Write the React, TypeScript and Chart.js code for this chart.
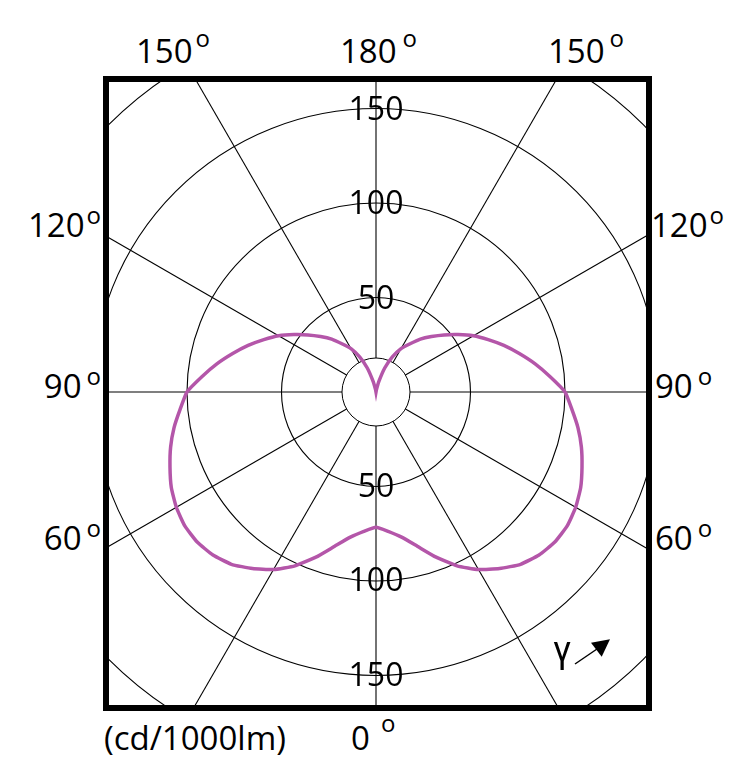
import { useEffect, useRef } from "react"
import { Chart, registerables } from "chart.js"

Chart.register(...registerables)

// gamma measured from straight down (0) to straight up (180), both halves are the same
const gammaDeg = [
  0, 5, 10, 15, 20, 25, 30, 35, 40, 45, 50, 55, 60, 65, 70, 75, 80, 85, 90,
  95, 100, 105, 110, 115, 120, 125, 130, 135, 140, 145, 150, 155, 160, 165, 170, 175, 180,
]
const intensity = [
  71.5, 74, 78, 84.5, 93, 101.5, 108.5, 114, 119, 122, 123.5, 123.5, 122, 119.5, 116, 112.5, 108.5, 104, 100,
  92.5, 85.5, 78.5, 72, 65.5, 59.5, 53, 47, 41.5, 36.5, 31, 26.5, 20.5, 13.5, 5.5, 1, 0, 0,
]
const ringValues = [50, 100, 150, 200]
const hubValue = 18
const topAngles = [150, 180, 150]
const sideAngles = [120, 90, 60]
const bottomAngle = 0
const unitText = "(cd/1000lm)"

const lineColor = "#b456a9"
const FONT = "'Open Sans', sans-serif"
const CANVAS = 900
const R_MAX = 238.1

const allLabels = [...gammaDeg, ...gammaDeg.slice(1, -1).reverse()].map((g) => `${g}°`)
const allValues = [...intensity, ...intensity.slice(1, -1).reverse()]

// white hub in the middle, angle lines start at its edge
const hubPlugin = {
  id: "hub",
  beforeDatasetsDraw(chart: any) {
    const s = chart.scales.r
    const ctx = chart.ctx
    const rad = s.getDistanceFromCenterForValue(hubValue)
    ctx.save()
    ctx.beginPath()
    ctx.arc(s.xCenter, s.yCenter, rad, 0, Math.PI * 2)
    ctx.fillStyle = "#fff"
    ctx.fill()
    ctx.lineWidth = 1
    ctx.strokeStyle = "#000"
    ctx.stroke()
    ctx.restore()
  },
}

// ring values written up and down the vertical axis
const ringLabelPlugin = {
  id: "ringLabels",
  afterDatasetsDraw(chart: any) {
    const s = chart.scales.r
    const ctx = chart.ctx
    ctx.save()
    ctx.font = `32px ${FONT}`
    ctx.fillStyle = "#000"
    ctx.textAlign = "center"
    ctx.textBaseline = "middle"
    s.ticks.forEach((t: any) => {
      if (!ringValues.includes(t.value)) return
      const d = s.getDistanceFromCenterForValue(t.value)
      ctx.fillText(String(t.value), s.xCenter, s.yCenter - d + 2)
      ctx.fillText(String(t.value), s.xCenter, s.yCenter + d + 1)
    })
    ctx.restore()
  },
}

function PolarChart() {
  const chartRef = useRef<HTMLCanvasElement>(null)
  const chartInstance = useRef<Chart | null>(null)

  useEffect(() => {
    if (!chartRef.current) return
    if (chartInstance.current) chartInstance.current.destroy()

    chartInstance.current = new Chart(chartRef.current, {
      type: "radar",
      data: {
        labels: allLabels,
        datasets: [
          {
            data: allValues,
            borderColor: lineColor,
            backgroundColor: "transparent",
            borderWidth: 3.5,
            pointRadius: 0,
            pointHoverRadius: 0,
            fill: false,
            tension: 0.15,
          },
        ],
      },
      options: {
        animation: false,
        responsive: false,
        events: [],
        layout: { padding: 0 },
        plugins: {
          legend: { display: false },
          tooltip: { enabled: false },
        },
        scales: {
          r: {
            min: 0,
            max: R_MAX,
            startAngle: 180,
            ticks: { display: false, stepSize: 50 },
            pointLabels: { display: false },
            grid: {
              circular: true,
              color: "#000",
              lineWidth: (c: any) => (ringValues.includes(c.tick?.value) ? 1.1 : 0),
            },
            angleLines: {
              color: "#000",
              lineWidth: (c: any) => (c.index % 6 === 0 ? 1.1 : 0),
            },
          },
        },
      },
      plugins: [hubPlugin, ringLabelPlugin],
    } as any)

    return () => {
      if (chartInstance.current) {
        chartInstance.current.destroy()
        chartInstance.current = null
      }
    }
  }, [])

  return (
    <canvas
      ref={chartRef}
      width={CANVAS}
      height={CANVAS}
      style={{ position: "absolute", left: -183, top: -140 }}
    />
  )
}

function Deg({ n, gap, raise = 13 }: { n: number; gap: number; raise?: number }) {
  return (
    <>
      {n}
      <span style={{ fontSize: 24, marginLeft: gap, position: "relative", top: -raise }}>o</span>
    </>
  )
}

const label: React.CSSProperties = {
  position: "absolute",
  fontSize: 33,
  lineHeight: "33px",
  whiteSpace: "nowrap",
  color: "#000",
}

export default function App() {
  return (
    <div
      style={{
        position: "absolute",
        left: 0,
        top: 0,
        width: 751,
        height: 781,
        background: "#fff",
        fontFamily: FONT,
        overflow: "hidden",
      }}
    >
      <div style={{ ...label, left: 136, top: 34 }}>
        <Deg n={topAngles[0]} gap={3} raise={16} />
      </div>
      <div style={{ ...label, left: 340, top: 34 }}>
        <Deg n={topAngles[1]} gap={6} raise={16} />
      </div>
      <div style={{ ...label, left: 548, top: 34 }}>
        <Deg n={topAngles[2]} gap={5} raise={16} />
      </div>

      <div style={{ ...label, right: 650, top: 208, textAlign: "right" }}>
        <Deg n={sideAngles[0]} gap={2} />
      </div>
      <div style={{ ...label, right: 650, top: 369, textAlign: "right" }}>
        <Deg n={sideAngles[1]} gap={5} />
      </div>
      <div style={{ ...label, right: 650, top: 521, textAlign: "right" }}>
        <Deg n={sideAngles[2]} gap={5} />
      </div>

      <div style={{ ...label, left: 651, top: 208 }}>
        <Deg n={sideAngles[0]} gap={2} />
      </div>
      <div style={{ ...label, left: 655, top: 369 }}>
        <Deg n={sideAngles[1]} gap={5} />
      </div>
      <div style={{ ...label, left: 655, top: 521 }}>
        <Deg n={sideAngles[2]} gap={5} />
      </div>

      <div style={{ ...label, left: 104, top: 721 }}>{unitText}</div>
      <div style={{ ...label, left: 351, top: 721 }}>
        <Deg n={bottomAngle} gap={11} raise={18} />
      </div>

      <div
        style={{
          position: "absolute",
          left: 103,
          top: 76,
          width: 549,
          height: 635,
          boxSizing: "border-box",
          border: "6px solid #000",
          overflow: "hidden",
        }}
      >
        <PolarChart />
      </div>

      <div
        style={{
          ...label,
          fontFamily: "Roboto, sans-serif",
          fontSize: 36,
          lineHeight: "36px",
          left: 553,
          top: 632,
        }}
      >
        γ
      </div>
      <svg
        width={45}
        height={35}
        style={{ position: "absolute", left: 570, top: 634 }}
      >
        <line x1={5} y1={30} x2={27} y2={15} stroke="#000" strokeWidth={1.5} />
        <polygon points="21,8.7 40,5.3 31.7,22.7" fill="#000" />
      </svg>
    </div>
  )
}
